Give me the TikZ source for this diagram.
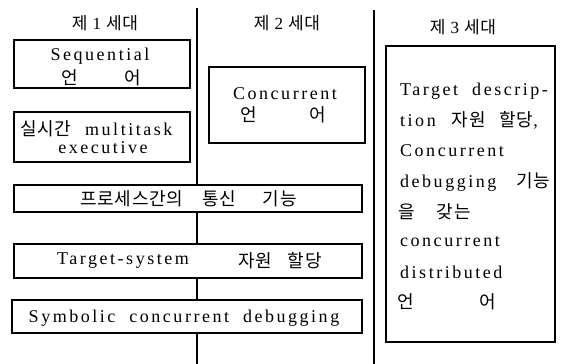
\documentclass[tikz,border=0pt]{standalone}
\usepackage{fontspec}
\setmainfont{Liberation Serif}[LetterSpace=14,WordSpace=2]
\newfontfamily\kr{Noto Sans CJK KR}[LetterSpace=4]
\begin{document}
\begin{tikzpicture}[x=1pt,y=-1pt,
  box/.style={draw, line width=1.1pt, fill=white, inner sep=0pt},
  sep/.style={line width=1.1pt},
  lat/.style={font=\fontsize{18}{21}\selectfont, inner sep=0pt},
  kor/.style={font=\kr\fontsize{18}{21}\selectfont, inner sep=0pt},
  hdr/.style={font=\fontsize{17}{20}\selectfont, inner sep=0pt}]
\useasboundingbox (0,0) rectangle (565,364);
% separators
\coordinate (s1t) at (197,8);   \coordinate (s1b) at (197,364);
\coordinate (s2t) at (374,10);  \coordinate (s2b) at (374,364);
\draw[sep] (s1t) -- (s1b);
\draw[sep] (s2t) -- (s2b);
% headers
\node[hdr] (h1) at (105,23) {{\kr 제}\hspace{5pt}1\hspace{5pt}{\kr 세대}};
\node[hdr] (h2) at (287,23) {{\kr 제}\hspace{5pt}2\hspace{5pt}{\kr 세대}};
\node[hdr] (h3) at (463,27) {{\kr 제}\hspace{5pt}3\hspace{5pt}{\kr 세대}};
% boxes
\node[box, minimum width=176pt, minimum height=48pt] (b1) at (102,64) {};
\node[box, minimum width=176pt, minimum height=50pt] (b2) at (102,137) {};
\node[box, minimum width=156pt, minimum height=76pt] (c1) at (287,105) {};
\node[box, minimum width=348pt, minimum height=27pt] (b3) at (188,198.5) {};
\node[box, minimum width=348pt, minimum height=34pt] (b4) at (188,261) {};
\node[box, minimum width=350pt, minimum height=33pt] (b5) at (187,316.5) {};
\node[box, minimum width=169pt, minimum height=296pt] (r1) at (470.5,194) {};
% box 1
\node[lat] (t1a) at (100,56) {Sequential};
\node[kor] (t1b) at (70,78) {언};
\node[kor] (t1c) at (133,78) {어};
% box 2
\node[kor, anchor=west] (t2a) at (20,129) {실시간};
\node[lat, anchor=west] (t2b) at (85,129) {multitask};
\node[lat] (t2c) at (103,148) {executive};
% concurrent box
\node[lat] (t3a) at (285,94) {Concurrent};
\node[kor] (t3b) at (249,115) {언};
\node[kor] (t3c) at (318,115) {어};
% wide boxes
\node[kor, anchor=west] (t4) at (80,199) {프로세스간의\hspace{19pt}통신\hspace{27pt}기능};
\node[lat, anchor=west] (t5a) at (57,261) {Target-system};
\node[kor, anchor=east] (t5b) at (322,261) {자원\hspace{16pt}할당};
\node[lat] (t6) at (184,318) {Symbolic concurrent debugging};
% third generation box
\node[lat, anchor=west] (r1a) at (400,91) {Target descrip-};
\node[lat, anchor=west] (r1b) at (400,120) {tion\hspace{16pt}{\kr 자원\hspace{14pt}할당},};
\node[lat, anchor=west] (r1c) at (400,151) {Concurrent};
\node[lat, anchor=west] (r1d) at (400,182) {debugging\hspace{20pt}{\kr 기능}};
\node[kor, anchor=west] (r1e) at (398,212) {을\hspace{22pt}갖는};
\node[lat, anchor=west] (r1f) at (400,242) {concurrent};
\node[lat, anchor=west] (r1g) at (400,272) {distributed};
\node[kor] (r1h) at (406,302) {언};
\node[kor] (r1i) at (488,302) {어};
\end{tikzpicture}
\end{document}
